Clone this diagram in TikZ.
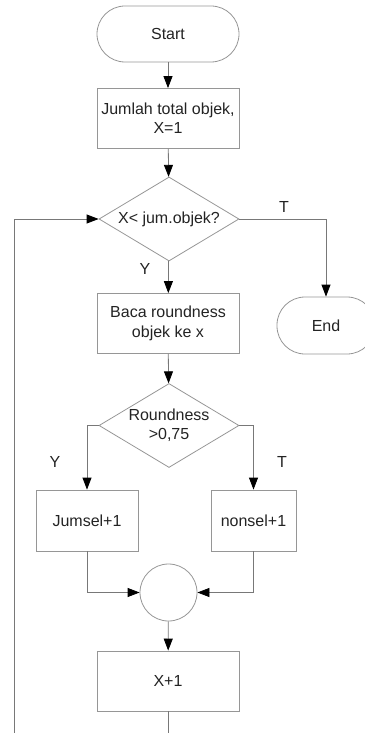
\documentclass[tikz,border=0pt]{standalone}
\usepackage{fontspec}
\setmainfont{Liberation Sans}
\usetikzlibrary{shapes.geometric, arrows.meta}
\definecolor{boxgray}{RGB}{150,150,150}
\definecolor{linegray}{RGB}{120,120,120}
\definecolor{textgray}{RGB}{35,35,35}
\tikzset{
    term/.style={draw=boxgray, line width=0.8pt, rectangle, rounded corners=28pt, minimum width=142pt, minimum height=56pt},
    proc/.style={draw=boxgray, line width=0.8pt, rectangle, minimum width=142pt, minimum height=60pt, align=center},
    decide/.style={draw=boxgray, line width=0.8pt, diamond, aspect=1.67, minimum width=140pt, minimum height=84pt, inner sep=0pt, align=center},
    conn/.style={draw=linegray, line width=0.8pt, -{Triangle[length=12pt, width=9pt, color=black]}},
}

\begin{document}
\begin{tikzpicture}[x=1pt, y=-1pt, every node/.style={text=textgray, font=\fontsize{16}{19.3}\selectfont}]
    \useasboundingbox (0,0) rectangle (364,733);
    \node[term] (start) at (168,34) {Start};
    \node[proc] (total) at (168,118.5) {Jumlah total objek,\\X=1};
    \node[decide] (cek) at (169,219) {X< jum.objek?};
    \node[proc] (baca) at (168,323.5) {Baca roundness\\objek ke x};
    \node[term, minimum width=98pt, minimum height=57pt] (end) at (326,325.5) {End};
    \node[decide] (round) at (169,425.5) {Roundness\\>0,75};
    \node[proc, minimum width=102pt, minimum height=61pt] (jumsel) at (87,520.5) {Jumsel+1};
    \node[proc, minimum width=85pt, minimum height=61pt] (nonsel) at (253.5,520.5) {nonsel+1};
    \node[draw=boxgray, line width=0.8pt, circle, minimum size=57pt] (gabung) at (168.5,592.5) {};
    \node[proc] (tambah) at (168,681) {X+1};
    % keterangan cabang
    \node (lblT1) at (284,207) {T};
    \node (lblY1) at (145,269) {Y};
    \node (lblY2) at (55,462) {Y};
    \node (lblT2) at (282,462) {T};
    % alur
    \draw[conn] (start) -- (total);
    \draw[conn] (total) -- (cek);
    \draw[conn] (cek) -- (baca);
    \draw[conn] (cek.east) -| (end.north);
    \draw[conn] (baca) -- (round);
    \draw[conn] (round.west) -| (jumsel.north);
    \draw[conn] (round.east) -| (nonsel.north);
    \draw[conn] (jumsel.south) |- (gabung.west);
    \draw[conn] (nonsel.south) |- (gabung.east);
    \draw[conn] (gabung) -- (tambah);
    \draw[conn] (tambah.south) -- ++(0,60) -| (14,219) -- (cek.west);
\end{tikzpicture}
\end{document}
